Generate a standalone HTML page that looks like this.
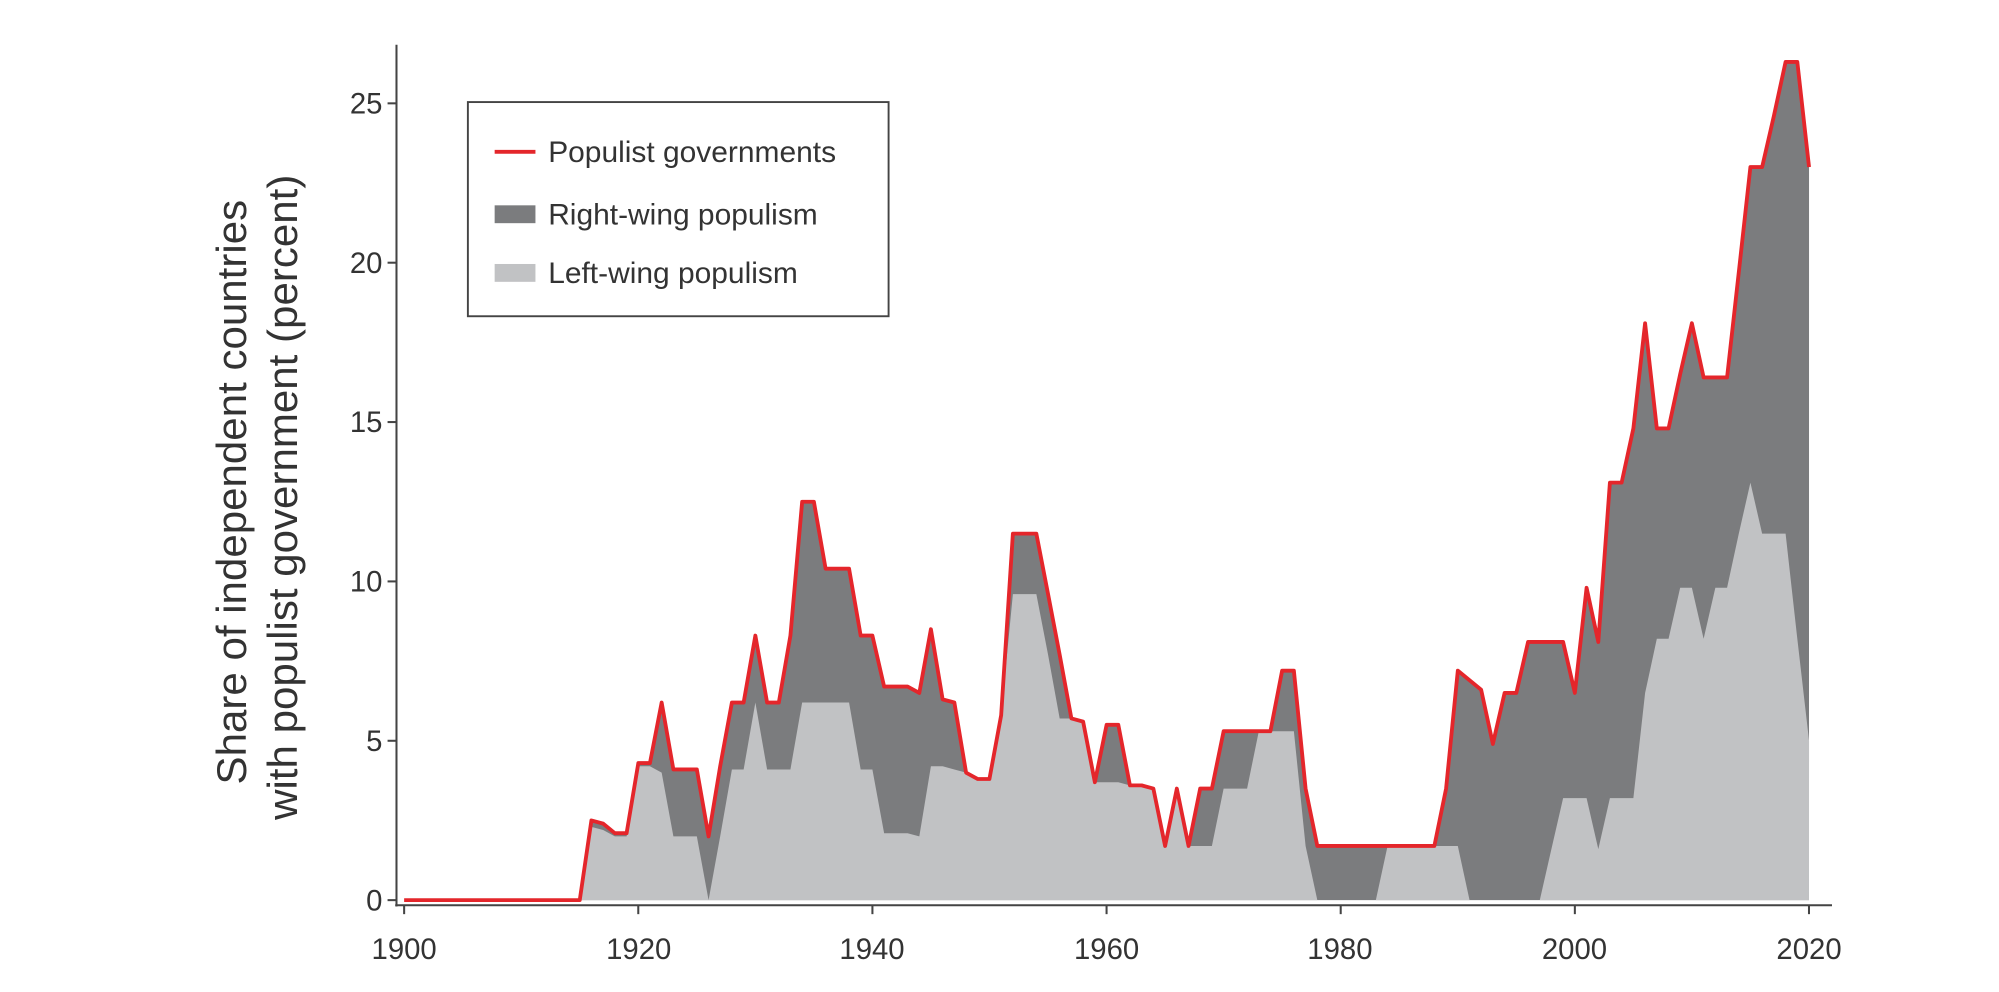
<!DOCTYPE html>
<html><head><meta charset="utf-8"><style>
html,body{margin:0;padding:0;background:#fff;}
svg{display:block;}
text{font-family:"Liberation Sans",sans-serif;fill:#333;}
</style></head><body>
<svg id="c" width="1999" height="992" viewBox="0 0 1568 778" xmlns="http://www.w3.org/2000/svg">
<path id="dark" fill="#7b7c7e" d=""/>
<path id="light" fill="#c1c2c4" d=""/>
<path id="red" fill="none" stroke="#e4262b" stroke-width="3" stroke-linejoin="round" d=""/>
<line x1="311" y1="35" x2="311" y2="711" stroke="#444" stroke-width="1.6"/>
<line x1="310" y1="710" x2="1437" y2="710" stroke="#444" stroke-width="1.6"/>
<g id="ticks" stroke="#444" stroke-width="1.6"></g>
<g font-size="23" text-anchor="end">
<text x="300" y="714">0</text><text x="300" y="589">5</text><text x="300" y="464">10</text>
<text x="300" y="339">15</text><text x="300" y="214">20</text><text x="300" y="89">25</text>
</g>
<g font-size="23" text-anchor="middle">
<text x="317" y="752">1900</text><text x="501" y="752">1920</text><text x="684" y="752">1940</text>
<text x="868" y="752">1960</text><text x="1051" y="752">1980</text><text x="1235" y="752">2000</text><text x="1419" y="752">2020</text>
</g>
<g font-size="33" text-anchor="middle">
<text transform="translate(193,386) rotate(-90)">Share of independent countries</text>
<text transform="translate(233,390) rotate(-90)">with populist government (percent)</text>
</g>
<rect x="367" y="80" width="330" height="168" fill="#fff" stroke="#444" stroke-width="1.5"/>
<line x1="388" y1="119" x2="420" y2="119" stroke="#e4262b" stroke-width="3"/>
<rect x="388" y="161" width="32" height="14" fill="#7b7c7e"/>
<rect x="388" y="207" width="32" height="14" fill="#c1c2c4"/>
<g font-size="23.5">
<text x="430" y="127">Populist governments</text>
<text x="430" y="176">Right-wing populism</text>
<text x="430" y="222">Left-wing populism</text>
</g>
</svg>
<script>
var tot={1916:2.5,1917:2.4,1918:2.1,1919:2.1,1920:4.3,1921:4.3,1922:6.2,1923:4.1,1924:4.1,1925:4.1,1926:2.0,1927:4.2,1928:6.2,1929:6.2,1930:8.3,1931:6.2,1932:6.2,1933:8.3,1934:12.5,1935:12.5,1936:10.4,1937:10.4,1938:10.4,1939:8.3,1940:8.3,1941:6.7,1942:6.7,1943:6.7,1944:6.5,1945:8.5,1946:6.3,1947:6.2,1948:4.0,1949:3.8,1950:3.8,1951:5.8,1952:11.5,1953:11.5,1954:11.5,1955:9.6,1956:7.7,1957:5.7,1958:5.6,1959:3.7,1960:5.5,1961:5.5,1962:3.6,1963:3.6,1964:3.5,1965:1.7,1966:3.5,1967:1.7,1968:3.5,1969:3.5,1970:5.3,1971:5.3,1972:5.3,1973:5.3,1974:5.3,1975:7.2,1976:7.2,1977:3.5,1978:1.7,1979:1.7,1980:1.7,1981:1.7,1982:1.7,1983:1.7,1984:1.7,1985:1.7,1986:1.7,1987:1.7,1988:1.7,1989:3.5,1990:7.2,1991:6.9,1992:6.6,1993:4.9,1994:6.5,1995:6.5,1996:8.1,1997:8.1,1998:8.1,1999:8.1,2000:6.5,2001:9.8,2002:8.1,2003:13.1,2004:13.1,2005:14.8,2006:18.1,2007:14.8,2008:14.8,2009:16.5,2010:18.1,2011:16.4,2012:16.4,2013:16.4,2014:19.7,2015:23.0,2016:23.0,2017:24.6,2018:26.3,2019:26.3,2020:23.0};
var left={1916:2.3,1917:2.2,1918:2.0,1919:2.0,1920:4.2,1921:4.2,1922:4.0,1923:2.0,1924:2.0,1925:2.0,1926:0,1927:2.0,1928:4.1,1929:4.1,1930:6.2,1931:4.1,1932:4.1,1933:4.1,1934:6.2,1935:6.2,1936:6.2,1937:6.2,1938:6.2,1939:4.1,1940:4.1,1941:2.1,1942:2.1,1943:2.1,1944:2.0,1945:4.2,1946:4.2,1947:4.1,1948:4.0,1949:3.8,1950:3.8,1951:5.8,1952:9.6,1953:9.6,1954:9.6,1955:7.7,1956:5.7,1957:5.7,1958:5.6,1959:3.7,1960:3.7,1961:3.7,1962:3.6,1963:3.6,1964:3.5,1965:1.7,1966:3.5,1967:1.7,1968:1.7,1969:1.7,1970:3.5,1971:3.5,1972:3.5,1973:5.3,1974:5.3,1975:5.3,1976:5.3,1977:1.7,1978:0,1979:0,1980:0,1981:0,1982:0,1983:0,1984:1.7,1985:1.7,1986:1.7,1987:1.7,1988:1.7,1989:1.7,1990:1.7,1991:0,1992:0,1993:0,1994:0,1995:0,1996:0,1997:0,1998:1.6,1999:3.2,2000:3.2,2001:3.2,2002:1.6,2003:3.2,2004:3.2,2005:3.2,2006:6.5,2007:8.2,2008:8.2,2009:9.8,2010:9.8,2011:8.2,2012:9.8,2013:9.8,2014:11.5,2015:13.1,2016:11.5,2017:11.5,2018:11.5,2019:8.2,2020:5.0};
function X(y){return 317+(y-1900)*9.183;}
function Y(v){return 706-v*25;}
function area(d){var s='M'+X(1915)+','+Y(0);for(var y=1916;y<=2020;y++)s+=' L'+X(y).toFixed(1)+','+Y(d[y]).toFixed(1);s+=' L'+X(2020)+','+Y(0)+'Z';return s;}
document.getElementById('dark').setAttribute('d',area(tot));
document.getElementById('light').setAttribute('d',area(left));
var r='M'+X(1900)+','+Y(0)+' L'+X(1915)+','+Y(0);
for(var y=1916;y<=2020;y++)r+=' L'+X(y).toFixed(1)+','+Y(tot[y]).toFixed(1);
document.getElementById('red').setAttribute('d',r);
var g=document.getElementById('ticks'),h='';
for(var i=0;i<=25;i+=5)h+='<line x1="304" x2="311" y1="'+Y(i)+'" y2="'+Y(i)+'"/>';
for(var yr=1900;yr<=2020;yr+=20)h+='<line y1="710" y2="717" x1="'+X(yr)+'" x2="'+X(yr)+'"/>';
g.innerHTML=h;
</script>
</body></html>
